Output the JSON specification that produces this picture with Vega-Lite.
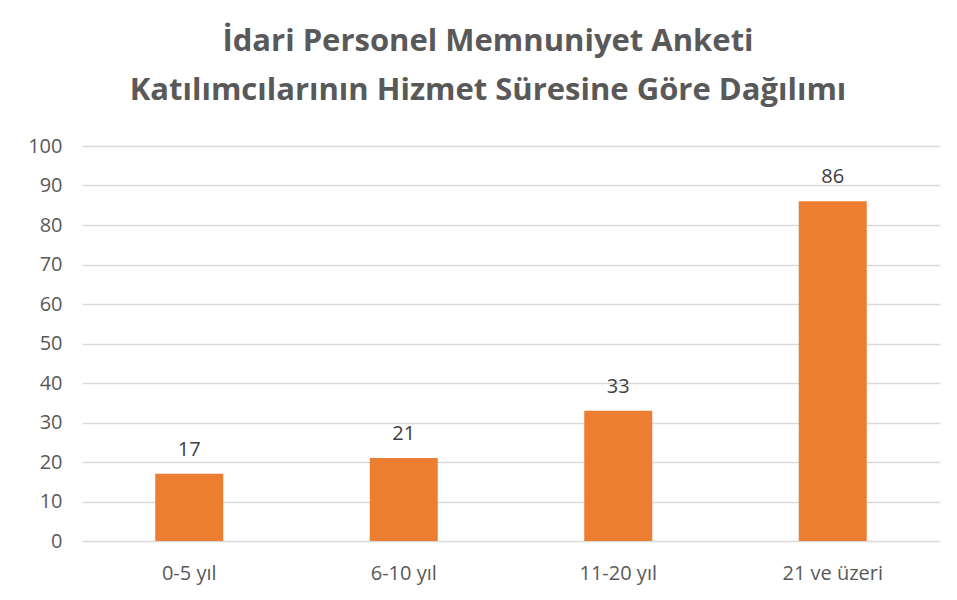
{
  "$schema": "https://vega.github.io/schema/vega-lite/v6.json",
  "width": 858,
  "height": 395,
  "autosize": {"type": "none"},
  "padding": {"left": 82, "top": 146, "right": 17, "bottom": 59},
  "background": "white",
  "title": {
    "text": ["İdari Personel Memnuniyet Anketi", "Katılımcılarının Hizmet Süresine Göre Dağılımı"],
    "font": "Open Sans",
    "fontSize": 31,
    "fontWeight": "bold",
    "color": "#595959",
    "anchor": "middle",
    "frame": "group",
    "offset": 29,
    "lineHeight": 49,
    "dx": -23
  },
  "data": {
    "values": [
      {"kategori": "0-5 yıl", "deger": 17},
      {"kategori": "6-10 yıl", "deger": 21},
      {"kategori": "11-20 yıl", "deger": 33},
      {"kategori": "21 ve üzeri", "deger": 86}
    ]
  },
  "encoding": {
    "x": {
      "field": "kategori",
      "type": "nominal",
      "sort": null,
      "scale": {"paddingInner": 0.683, "paddingOuter": 0.3415},
      "axis": {
        "title": null,
        "labelAngle": 0,
        "domain": false,
        "ticks": false,
        "labelPadding": 22,
        "labelFont": "Open Sans",
        "labelFontSize": 20,
        "labelColor": "#595959"
      }
    },
    "y": {
      "field": "deger",
      "type": "quantitative",
      "scale": {"domain": [0, 100]},
      "axis": {
        "title": null,
        "values": [0, 10, 20, 30, 40, 50, 60, 70, 80, 90, 100],
        "domain": false,
        "ticks": false,
        "labelPadding": 20,
        "labelFont": "Open Sans",
        "labelFontSize": 20,
        "labelColor": "#595959",
        "gridColor": "#D9D9D9",
        "gridWidth": 1.5
      }
    }
  },
  "layer": [
    {"mark": {"type": "bar", "color": "#ED7D31"}},
    {
      "mark": {"type": "text", "baseline": "bottom", "dy": -14, "font": "Open Sans", "fontSize": 20, "color": "#404040"},
      "encoding": {"text": {"field": "deger", "type": "quantitative"}}
    }
  ],
  "config": {"view": {"stroke": null}}
}
